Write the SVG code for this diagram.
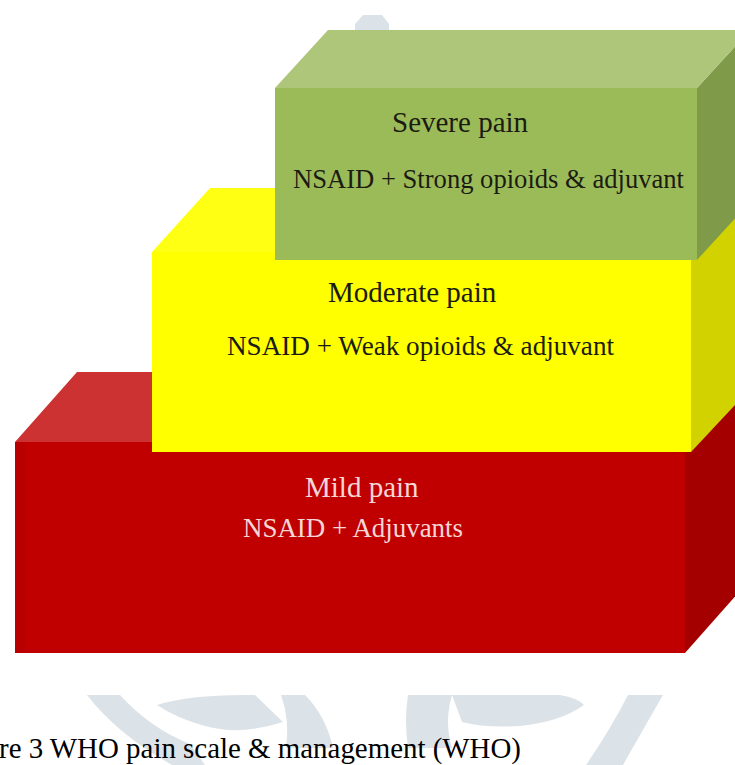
<svg xmlns="http://www.w3.org/2000/svg" width="735" height="765" viewBox="0 0 735 765">
  <style>
    .lbl { font-family: "Liberation Serif", "Times New Roman", serif; text-anchor: start; }
    .dark { fill: #1b1b12; }
    .light { fill: #f6d6d6; }
    .wm { fill: #dce3e8; }
  </style>
  <rect x="0" y="0" width="735" height="765" fill="#ffffff"/>

  <!-- watermark pieces -->
  <g id="watermark">
    <path class="wm" d="M355,24 L363,15 L382,15 L389,24 L389,32 L355,32 Z"/>
    <path class="wm" d="M87,695 L120,695 Q150,728 190,744 L205,765 L172,765 Q118,735 87,695 Z"/>
    <path class="wm" d="M157,705 Q190,694 255,695 L283,722 Q240,736 205,726 Q176,718 157,705 Z"/>
    <path class="wm" d="M281,695 L305,695 Q326,716 333,748 L286,748 Q290,720 281,695 Z"/>
    <path class="wm" d="M408,695 L452,695 Q444,722 452,748 L408,748 Q404,720 408,695 Z"/>
    <path class="wm" d="M452,695 L560,695 Q578,698 584,705 Q560,722 520,726 Q485,728 462,722 Z"/>
    <path class="wm" d="M628,695 L663,695 Q640,735 623,765 L586,765 Q610,730 628,695 Z"/>
  </g>

  <!-- Mild pain (red step) -->
  <g id="mild">
    <polygon points="685,442 747,372 747,583 685,653" fill="#a40000"/>
    <polygon points="15,442 77,372 747,372 685,442" fill="#cc3232"/>
    <rect x="15" y="442" width="670" height="211" fill="#c00000"/>
    <rect x="15" y="442" width="10" height="211" fill="#b80000"/>
    <text class="lbl light" x="305" y="497" font-size="29">Mild pain</text>
    <text class="lbl light" x="243" y="537" font-size="27" textLength="220" lengthAdjust="spacingAndGlyphs">NSAID + Adjuvants</text>
  </g>

  <!-- Moderate pain (yellow step) -->
  <g id="moderate">
    <polygon points="691,252 749,190 749,390 691,452" fill="#d2d200"/>
    <polygon points="152,252 210,188 749,188 691,252" fill="#ffff14"/>
    <rect x="152" y="252" width="539" height="200" fill="#ffff00"/>
    <text class="lbl dark" x="328" y="302" font-size="29">Moderate pain</text>
    <text class="lbl dark" x="227" y="355" font-size="27" textLength="387" lengthAdjust="spacingAndGlyphs">NSAID + Weak opioids &amp; adjuvant</text>
  </g>

  <!-- Severe pain (green step) -->
  <g id="severe">
    <polygon points="697,88 750,30 750,202 697,260" fill="#7f9b49"/>
    <polygon points="275,88 328,30 750,30 697,88" fill="#adc67a"/>
    <rect x="275" y="88" width="422" height="172" fill="#9bbb59"/>
    <text class="lbl dark" x="392" y="132" font-size="29">Severe pain</text>
    <text class="lbl dark" x="293" y="188" font-size="27" textLength="391" lengthAdjust="spacingAndGlyphs">NSAID + Strong opioids &amp; adjuvant</text>
  </g>

  <g id="connectors"/>

  <g id="caption">
    <text class="lbl" x="-1" y="758" font-size="28.5" fill="#000000" textLength="522" lengthAdjust="spacingAndGlyphs">re 3 WHO pain scale &amp; management (WHO)</text>
  </g>
</svg>
